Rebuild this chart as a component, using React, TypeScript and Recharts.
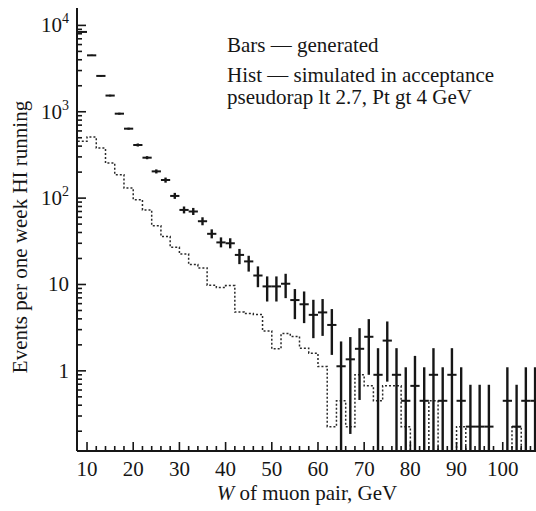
import React from 'react';
import { ComposedChart, XAxis, YAxis, Scatter, Line, ErrorBar } from 'recharts';

// Bin centers (GeV), 2 GeV wide bins
const binCenters = [
  9, 11, 13, 15, 17, 19, 21, 23, 25, 27, 29,
  31, 33, 35, 37, 39, 41, 43, 45, 47, 49, 51, 53, 55, 57, 59, 61, 63,
  65, 67, 69, 71, 73, 75, 77, 79, 81, 83, 85, 87, 89, 91, 93, 95, 97, 99, 101, 103, 105, 107,
];

// "Bars — generated"
const generated: (number | null)[] = [
  8400, 4500, 2600, 1540, 950, 637, 412, 294, 204, 162, 106,
  73, 70, 54, 38.6, 30.7, 30, 22, 18.5, 12.7, 9.5, 9.5, 10.2, 6.6, 5.9, 4.45, 4.75, 3.4,
  1.13, 1.36, 1.8, 2.48, 0.9, 2.24, 0.9, 0.45, 0.67, 0.45, 0.9, 0.45, 0.9, 0.45, 0.226, 0.226, 0.226, null, 0.45, 0.226, 0.45, 0.45,
];
const generatedLow: (number | null)[] = [
  8250, 4420, 2550, 1505, 925, 620, 396, 282, 193, 151, 98,
  66.5, 63.8, 48.5, 34.2, 26.9, 26.2, 17.2, 14.1, 9.3, 6.35, 6.35, 6.95, 3.97, 3.57, 2.39, 2.54, 1.53,
  0, 0.186, 0.46, 0.9, 0, 0.75, 0, 0, 0, 0, 0, 0, 0, 0, 0, 0, 0, null, 0, 0, 0, 0,
];
const generatedHigh: (number | null)[] = [
  8550, 4580, 2650, 1575, 975, 654, 429, 306, 215, 173, 115,
  80, 77, 60, 43.5, 35.1, 34.3, 25.8, 21.5, 16.2, 12.4, 12.4, 13.3, 8.85, 8.3, 6.65, 6.78, 5.19,
  2.19, 2.46, 3.12, 3.97, 1.83, 3.73, 1.83, 1.1, 1.49, 1.1, 1.83, 1.1, 1.83, 1.1, 0.69, 0.69, 0.69, null, 1.1, 0.69, 1.1, 1.1,
];

// "Hist — simulated in acceptance"
const simulated = [
  454, 510, 380, 255, 187, 131, 96, 73, 48, 36, 27,
  22.5, 17, 15.5, 9.8, 9.2, 9.7, 4.8, 4.6, 4.5, 2.9, 1.8, 2.7, 2.5, 1.83, 1.6, 1.12, 0.226,
  0.45, 0.226, 0.9, 0.67, 0.45, 0.67, 0.67, 0.226, 0, 0, 0.45, 0, 0, 0.226, 0, 0, 0, 0, 0, 0.226, 0, 0,
];

const xMajorTicks = [10, 20, 30, 40, 50, 60, 70, 80, 90, 100];
const yMajorTicks = [1, 10, 100, 1000, 10000];

const BIN_WIDTH = 2;
const X_DOMAIN: [number, number] = [7.83, 107.2];
const Y_DOMAIN: [number, number] = [0.118, 15900];

const xTicks: number[] = [];
for (let v = 10; v <= 106; v += 2) xTicks.push(v);
const yTicks: number[] = [];
[0.1, 1, 10, 100, 1000].forEach((d) => {
  for (let m = 1; m <= 9; m++) {
    const v = +(d * m).toPrecision(6);
    if (v >= Y_DOMAIN[0] && v <= Y_DOMAIN[1]) yTicks.push(v);
  }
});
yTicks.push(10000);

const pointData = binCenters
  .map((c, i) => {
    const v = generated[i];
    if (v == null) return null;
    const lo = Math.max(generatedLow[i] as number, Y_DOMAIN[0]);
    const hi = generatedHigh[i] as number;
    return { x: c, y: v, ex: BIN_WIDTH / 2, ey: [v - lo, hi - v] };
  })
  .filter(Boolean) as { x: number; y: number; ex: number; ey: number[] }[];

const histData = binCenters.map((c, i) => ({ x: c - BIN_WIDTH / 2, y: Math.max(simulated[i], Y_DOMAIN[0]) }));
histData.push({
  x: binCenters[binCenters.length - 1] + BIN_WIDTH / 2,
  y: Math.max(simulated[simulated.length - 1], Y_DOMAIN[0]),
});

const FONT = '"Liberation Serif", "DejaVu Serif", serif';
const INK = '#161616';

const XTick = (props: any) => {
  const { x, y, payload } = props;
  const v = payload.value;
  const major = xMajorTicks.includes(v);
  return (
    <g>
      <line x1={x} x2={x} y1={y} y2={y - (major ? 9 : 5)} stroke={INK} strokeWidth={1.6} />
      {major && (
        <text x={x} y={y + 25} textAnchor="middle" fontFamily={FONT} fontSize={21} fill={INK}>
          {v}
        </text>
      )}
    </g>
  );
};

const YTick = (props: any) => {
  const { x, y, payload } = props;
  const v = payload.value;
  const e = Math.log10(v);
  const major = yMajorTicks.some((t) => Math.abs(t - v) < 1e-9);
  const exp = Math.round(e);
  return (
    <g>
      <line x1={x} x2={x + (major ? 9 : 5)} y1={y} y2={y} stroke={INK} strokeWidth={1.6} />
      {major && (
        <text x={x - 8} y={y + 7} textAnchor="end" fontFamily={FONT} fontSize={21} fill={INK}>
          {exp === 0 ? '1' : exp === 1 ? '10' : (
            <>
              <tspan>10</tspan>
              <tspan dy={-9} fontSize={14}>{exp}</tspan>
            </>
          )}
        </text>
      )}
    </g>
  );
};

export default function App() {
  return (
    <div style={{ position: 'absolute', left: 0, top: 0, width: 536, height: 511, background: '#fff' }}>
      <ComposedChart width={536} height={511} margin={{ top: 8, right: 0, bottom: 0, left: 0 }}>
        <XAxis
          type="number"
          dataKey="x"
          domain={X_DOMAIN}
          allowDataOverflow
          ticks={xTicks}
          interval={0}
          tick={<XTick />}
          tickLine={false}
          tickSize={0}
          tickMargin={0}
          height={60}
          axisLine={{ stroke: INK, strokeWidth: 2 }}
        />
        <YAxis
          type="number"
          scale="log"
          domain={Y_DOMAIN}
          allowDataOverflow
          ticks={yTicks}
          interval={0}
          tick={<YTick />}
          tickLine={false}
          tickSize={0}
          tickMargin={0}
          width={77}
          axisLine={{ stroke: INK, strokeWidth: 2 }}
        />
        <Line
          data={histData}
          dataKey="y"
          type="stepAfter"
          stroke="#2a2a2a"
          strokeWidth={1.5}
          strokeDasharray="2 2"
          dot={false}
          activeDot={false}
          isAnimationActive={false}
        />
        <Scatter data={pointData} dataKey="y" shape={() => <g />} isAnimationActive={false}>
          <ErrorBar dataKey="ey" direction="y" width={0} stroke={INK} strokeWidth={2.4} isAnimationActive={false} />
          <ErrorBar dataKey="ex" direction="x" width={0} stroke={INK} strokeWidth={2} isAnimationActive={false} />
        </Scatter>
      </ComposedChart>
      <svg width={536} height={511} style={{ position: 'absolute', left: 0, top: 0, pointerEvents: 'none' }}>
        <g fontFamily={FONT} fontSize={21} fill={INK}>
          <text transform="translate(27,237) rotate(-90)" textAnchor="middle">Events per one week HI running</text>
          <text x={307} y={500} textAnchor="middle">
            <tspan fontStyle="italic">W</tspan> of muon pair, GeV
          </text>
          <text x={227} y={52}>Bars — generated</text>
          <text x={227} y={82}>Hist — simulated in acceptance</text>
          <text x={227} y={104}>pseudorap lt 2.7, Pt gt 4 GeV</text>
        </g>
      </svg>
    </div>
  );
}
